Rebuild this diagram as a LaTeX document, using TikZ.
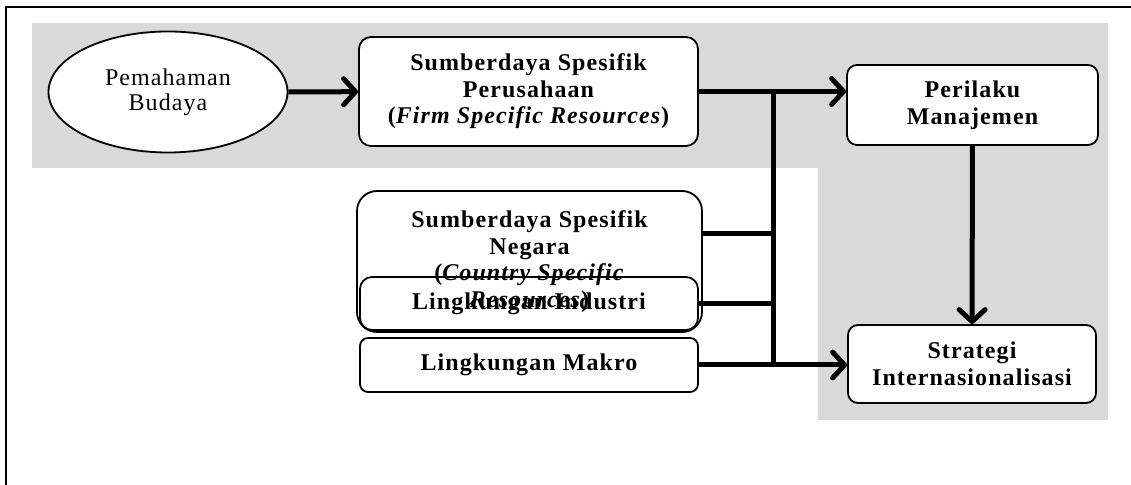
\documentclass[tikz,border=0pt]{standalone}
\usepackage{fontspec}
\setmainfont{Liberation Serif}[LetterSpace=4.5]
\usetikzlibrary{shapes.geometric,arrows.meta}
\definecolor{bggrey}{HTML}{D9D9D9}

\begin{document}
\begin{tikzpicture}[x=0.5pt,y=-0.5pt,
  box/.style={draw,line width=0.9pt,fill=white,rounded corners=6pt,align=center,
    inner sep=0pt,font=\fontsize{12}{13.3}\selectfont\bfseries},
  conn/.style={line width=2.5pt},
  arr/.style={conn,-{Straight Barb[length=6pt,width=13pt,round]}}]
\useasboundingbox (0,0) rectangle (1131,485);

% grey panels and frame
\fill[bggrey] (32,23) rectangle (1107,168);
\fill[bggrey] (818,23) rectangle (1108,420);
\draw[line width=1pt] (6,485)--(6,7)--(1131,7);

\node[draw,ellipse,line width=0.9pt,fill=white,inner sep=0pt,align=center,
  minimum width=119.5pt,minimum height=60.5pt,font=\fontsize{12}{12.5}\selectfont]
  (budaya) at (168,92) {Pemahaman\\Budaya};
\node[box,minimum width=169.5pt,minimum height=54.5pt] (ssp) at (528.5,91.5)
  {Sumberdaya Spesifik\\Perusahaan\\(\textit{Firm Specific Resources})};
\node[box,minimum width=125.5pt,minimum height=40pt,rounded corners=5pt]
  (perilaku) at (972.5,105) {Perilaku\\Manajemen};
\node[box,minimum width=172.5pt,minimum height=70.5pt,rounded corners=10pt]
  (ssn) at (529.5,261.5)
  {Sumberdaya Spesifik\\Negara\\(\textit{Country Specific}\\\textit{Resources})};
\node[box,fill=none,minimum width=169pt,minimum height=26.5pt] (industri) at (529,303.5)
  {Lingkungan Industri};
\node[box,minimum width=169pt,minimum height=27pt,rounded corners=4pt] (makro) at (529,365)
  {Lingkungan Makro};
\node[box,minimum width=124pt,minimum height=39pt,rounded corners=5pt]
  (strategi) at (972,364) {Strategi\\Internasionalisasi};

\coordinate (jt) at (773,92);
\coordinate (jb) at (773,365);

\draw[arr] (budaya) -- (ssp);
\draw[arr] (ssp.east) -- (ssp.east -| perilaku.west);
\draw[conn] (jt) -- (jb);
\draw[conn] ([yshift=14pt]ssn.east) -- ([yshift=14pt]ssn.east -| jt);
\draw[conn] (industri.east) -- (industri.east -| jt);
\draw[arr] (makro.east) -- (makro.east -| strategi.west);
\draw[arr] (perilaku) -- (strategi);
\end{tikzpicture}
\end{document}
